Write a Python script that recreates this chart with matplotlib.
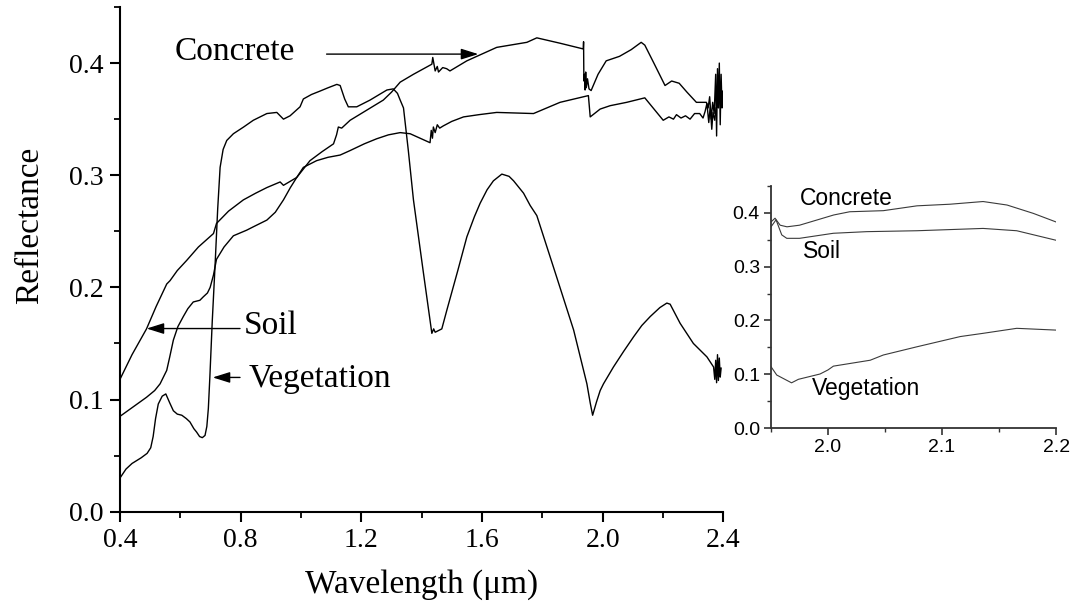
import matplotlib
matplotlib.use("Agg")
import matplotlib.pyplot as plt
from matplotlib.ticker import MultipleLocator

# ---------------- full-range spectra (wavelength in um, reflectance) ----------------
veg_x = [0.400, 0.420, 0.440, 0.470, 0.490, 0.502, 0.510, 0.518, 0.527, 0.540,
         0.552, 0.565, 0.577, 0.590, 0.605, 0.620, 0.632, 0.645, 0.654, 0.664,
         0.673, 0.682, 0.688, 0.693, 0.698, 0.706, 0.715, 0.724, 0.732, 0.742,
         0.754, 0.776, 0.810, 0.842, 0.887, 0.920, 0.942, 0.964, 0.997, 1.008,
         1.035, 1.063, 1.090, 1.119, 1.130, 1.145, 1.157, 1.185, 1.229, 1.260,
         1.285, 1.306, 1.320, 1.329, 1.340, 1.356, 1.373, 1.405, 1.434, 1.440,
         1.445, 1.467, 1.484, 1.520, 1.550, 1.575, 1.594, 1.617, 1.638, 1.666,
         1.690, 1.705, 1.738, 1.760, 1.782, 1.848, 1.904, 1.948, 1.959, 1.967,
         1.980, 1.992, 2.003, 2.036, 2.070, 2.103, 2.130, 2.158, 2.190, 2.213,
         2.224, 2.257, 2.301, 2.346, 2.368, 2.372, 2.375, 2.378, 2.381, 2.384,
         2.387, 2.390, 2.393]
veg_y = [0.030, 0.038, 0.043, 0.048, 0.052, 0.057, 0.067, 0.083, 0.096, 0.103,
         0.105, 0.097, 0.090, 0.087, 0.086, 0.083, 0.080, 0.074, 0.071, 0.067,
         0.066, 0.068, 0.076, 0.092, 0.120, 0.170, 0.218, 0.270, 0.307, 0.323,
         0.331, 0.337, 0.343, 0.349, 0.355, 0.356, 0.350, 0.353, 0.361, 0.368,
         0.372, 0.375, 0.378, 0.381, 0.380, 0.368, 0.361, 0.361, 0.367, 0.372,
         0.376, 0.377, 0.373, 0.367, 0.360, 0.322, 0.278, 0.215, 0.159, 0.163,
         0.160, 0.163, 0.180, 0.215, 0.245, 0.263, 0.275, 0.287, 0.295, 0.301,
         0.299, 0.295, 0.284, 0.273, 0.264, 0.209, 0.162, 0.114, 0.097, 0.086,
         0.098, 0.108, 0.114, 0.129, 0.143, 0.156, 0.166, 0.174, 0.182, 0.186,
         0.185, 0.168, 0.150, 0.138, 0.129, 0.118, 0.135, 0.115, 0.140, 0.117,
         0.137, 0.120, 0.128]

soil_x = [0.400, 0.440, 0.488, 0.520, 0.555, 0.566, 0.590, 0.621, 0.660, 0.710,
          0.720, 0.760, 0.809, 0.850, 0.887, 0.931, 0.942, 0.986, 1.008, 1.052,
          1.090, 1.130, 1.163, 1.210, 1.251, 1.290, 1.329, 1.362, 1.428, 1.432,
          1.436, 1.439, 1.445, 1.452, 1.460, 1.472, 1.500, 1.539, 1.590, 1.649,
          1.771, 1.859, 1.953, 1.959, 1.992, 2.025, 2.080, 2.140, 2.201, 2.220,
          2.235, 2.245, 2.260, 2.275, 2.290, 2.305, 2.322, 2.333, 2.340, 2.346,
          2.352, 2.357, 2.362, 2.366, 2.372, 2.376]
soil_y = [0.118, 0.140, 0.163, 0.183, 0.203, 0.206, 0.215, 0.224, 0.236, 0.248,
          0.257, 0.268, 0.278, 0.284, 0.289, 0.294, 0.291, 0.298, 0.307, 0.313,
          0.316, 0.318, 0.322, 0.328, 0.3325, 0.336, 0.338, 0.337, 0.329, 0.340,
          0.333, 0.343, 0.338, 0.345, 0.342, 0.344, 0.348, 0.352, 0.354, 0.356,
          0.355, 0.365, 0.371, 0.352, 0.359, 0.362, 0.365, 0.369, 0.349, 0.352,
          0.350, 0.354, 0.351, 0.353, 0.350, 0.355, 0.355, 0.351, 0.357, 0.364,
          0.347, 0.361, 0.341, 0.356, 0.349, 0.360]

conc_x = [0.400, 0.444, 0.488, 0.515, 0.533, 0.555, 0.565, 0.577, 0.592, 0.610,
          0.625, 0.643, 0.665, 0.676, 0.690, 0.699, 0.710, 0.720, 0.745, 0.776,
          0.820, 0.842, 0.887, 0.915, 0.942, 0.965, 0.986, 1.030, 1.070, 1.108,
          1.118, 1.124, 1.135, 1.163, 1.218, 1.273, 1.300, 1.329, 1.373, 1.434,
          1.437, 1.445, 1.452, 1.456, 1.470, 1.483, 1.494, 1.550, 1.649, 1.749,
          1.782, 1.859, 1.936, 1.937, 1.938, 1.940, 1.942, 1.944, 1.946, 1.950,
          1.955, 1.962, 1.985, 2.012, 2.056, 2.095, 2.128, 2.140, 2.170, 2.207,
          2.229, 2.254, 2.280, 2.311, 2.344, 2.350, 2.355, 2.360, 2.365, 2.370,
          2.375, 2.378, 2.381, 2.384, 2.387, 2.390, 2.393, 2.396, 2.399]
conc_y = [0.085, 0.0935, 0.102, 0.108, 0.114, 0.126, 0.138, 0.153, 0.165, 0.174,
          0.181, 0.187, 0.1885, 0.1915, 0.195, 0.200, 0.211, 0.225, 0.236, 0.246,
          0.251, 0.254, 0.260, 0.267, 0.278, 0.289, 0.298, 0.313, 0.321, 0.328,
          0.336, 0.343, 0.342, 0.349, 0.358, 0.367, 0.374, 0.383, 0.390, 0.399,
          0.405, 0.393, 0.397, 0.392, 0.396, 0.395, 0.393, 0.402, 0.414, 0.4185,
          0.4225, 0.4177, 0.4126, 0.4190, 0.384, 0.390, 0.376, 0.392, 0.378, 0.386,
          0.377, 0.3755, 0.390, 0.402, 0.406, 0.412, 0.4185, 0.416, 0.400, 0.380,
          0.384, 0.382, 0.374, 0.365, 0.365, 0.360, 0.370, 0.350, 0.365, 0.355,
          0.390, 0.335, 0.395, 0.360, 0.400, 0.345, 0.390, 0.360, 0.375]

# ---------------- detail spectra for the 1.95-2.2 um window ----------------
in_conc_x = [1.950, 1.9535, 1.958, 1.964, 1.975, 2.005, 2.019, 2.0485, 2.078,
             2.107, 2.136, 2.157, 2.180, 2.200]
in_conc_y = [0.383, 0.390, 0.377, 0.374, 0.377, 0.396, 0.402, 0.404, 0.413,
             0.416, 0.421, 0.4145, 0.399, 0.383]

in_soil_x = [1.950, 1.9544, 1.9594, 1.9638, 1.975, 2.0047, 2.034, 2.078, 2.136,
             2.1655, 2.200]
in_soil_y = [0.374, 0.387, 0.359, 0.3526, 0.3526, 0.362, 0.365, 0.3667, 0.371,
             0.3667, 0.349]

in_veg_x = [1.950, 1.955, 1.9608, 1.968, 1.974, 1.993, 2.000, 2.0047, 2.037,
            2.0485, 2.078, 2.116, 2.136, 2.1655, 2.200]
in_veg_y = [0.114, 0.0985, 0.092, 0.084, 0.0905, 0.1004, 0.108, 0.115, 0.126,
            0.1357, 0.151, 0.170, 0.176, 0.1853, 0.182]

main_xticks = [0.4, 0.8, 1.2, 1.6, 2.0, 2.4]
main_yticks = [0.0, 0.1, 0.2, 0.3, 0.4]
inset_xticks = [2.0, 2.1, 2.2]
inset_yticks = [0.0, 0.1, 0.2, 0.3, 0.4]

SERIF = ["Liberation Serif", "DejaVu Serif"]
SANS = ["Liberation Sans", "DejaVu Sans"]

fig = plt.figure(figsize=(10.74, 6.09), dpi=100)

# ---------------- main panel ----------------
ax = fig.add_axes([0.1117, 0.1598, 0.5617, 0.8287])
for xs, ys in ((veg_x, veg_y), (soil_x, soil_y), (conc_x, conc_y)):
    ax.plot(xs, ys, color="black", lw=1.0, solid_joinstyle="round")

ax.set_xlim(0.4, 2.4)
ax.set_ylim(0.0, 0.45)
ax.set_xticks(main_xticks)
ax.set_xticklabels([f"{v:.1f}" for v in main_xticks])
ax.set_yticks(main_yticks)
ax.set_yticklabels([f"{v:.1f}" for v in main_yticks])
ax.xaxis.set_minor_locator(MultipleLocator(0.2))
ax.yaxis.set_minor_locator(MultipleLocator(0.05))
for side in ("top", "right"):
    ax.spines[side].set_visible(False)
for side in ("left", "bottom"):
    ax.spines[side].set_linewidth(1.5)
ax.tick_params(which="major", direction="out", length=7, width=1.5,
               labelsize=20, pad=5)
ax.tick_params(which="minor", direction="out", length=4, width=1.3)
for lab in ax.get_xticklabels() + ax.get_yticklabels():
    lab.set_family(SERIF)

ax.set_xlabel("Wavelength (\u03bcm)", fontsize=24, family=SERIF)
ax.set_ylabel("Reflectance", fontsize=24, family=SERIF)
ax.xaxis.label.set_va("center")
ax.yaxis.label.set_va("center")
ax.xaxis.set_label_coords(0.5, -0.145)
ax.yaxis.set_label_coords(-0.15, 0.568)

arrow = dict(arrowstyle="-|>,head_length=0.7,head_width=0.22", color="black",
             lw=1.0, mutation_scale=15, shrinkA=0, shrinkB=0)
ax.text(0.582, 0.4097, "Concrete", fontsize=24, family=SERIF,
        ha="left", va="center")
ax.annotate("", xy=(1.588, 0.408), xytext=(1.085, 0.408), arrowprops=arrow)
ax.text(0.812, 0.166, "Soil", fontsize=24, family=SERIF, ha="left", va="center")
ax.annotate("", xy=(0.4885, 0.1633), xytext=(0.798, 0.1633), arrowprops=arrow)
ax.text(0.828, 0.1188, "Vegetation", fontsize=24, family=SERIF,
        ha="left", va="center")
ax.annotate("", xy=(0.7075, 0.1197), xytext=(0.798, 0.1197), arrowprops=arrow)

# ---------------- inset panel ----------------
ins = fig.add_axes([0.7179, 0.2972, 0.2654, 0.3975])
for xs, ys in ((in_conc_x, in_conc_y), (in_soil_x, in_soil_y), (in_veg_x, in_veg_y)):
    ins.plot(xs, ys, color="#3a3a3a", lw=0.8)
ins.set_xlim(1.95, 2.2)
ins.set_ylim(0.0, 0.45)
ins.set_xticks(inset_xticks)
ins.set_xticklabels([f"{v:.1f}" for v in inset_xticks])
ins.set_yticks(inset_yticks)
ins.set_yticklabels([f"{v:.1f}" for v in inset_yticks])
ins.xaxis.set_minor_locator(MultipleLocator(0.05))
ins.yaxis.set_minor_locator(MultipleLocator(0.05))
for side in ("top", "right"):
    ins.spines[side].set_visible(False)
for side in ("left", "bottom"):
    ins.spines[side].set_linewidth(1.3)
    ins.spines[side].set_color("#333333")
ins.tick_params(which="major", direction="out", length=5, width=1.2,
                labelsize=14, pad=3, color="#333333")
ins.tick_params(which="minor", direction="out", length=3, width=1.0,
                color="#333333")
for lab in ins.get_xticklabels() + ins.get_yticklabels():
    lab.set_family(SANS)
ins.patch.set_alpha(0)

ins.text(1.9754, 0.427, "Concrete", fontsize=16.5, family=SANS,
         ha="left", va="center")
ins.text(1.9783, 0.328, "Soil", fontsize=16.5, family=SANS,
         ha="left", va="center")
ins.text(1.9857, 0.0738, "Vegetation", fontsize=16.5, family=SANS,
         ha="left", va="center")

fig.savefig("out.png", dpi=100)
